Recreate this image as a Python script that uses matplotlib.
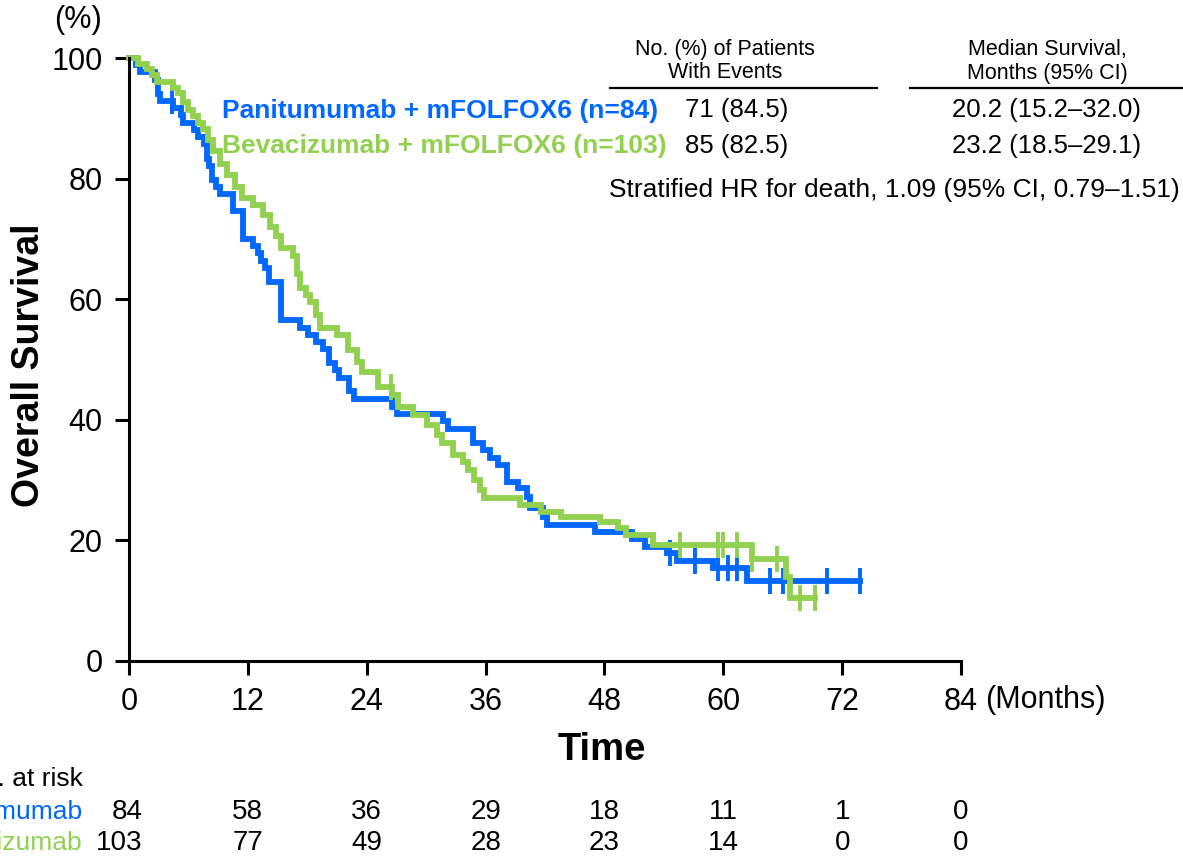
import matplotlib
matplotlib.use("Agg")
import matplotlib.pyplot as plt
from matplotlib.transforms import blended_transform_factory
import numpy as np

plt.rcParams['font.family'] = ['Liberation Sans', 'DejaVu Sans']

# Kaplan-Meier steps: event times (months) and survival (%) after each drop
pani_t = [0, 0.7, 1.1, 2.6, 2.9, 3.1, 4.4, 5.2, 5.5, 6.6, 7.0, 7.6, 7.9, 8.1, 8.4,
          8.8, 9.2, 10.5, 11.5, 12.5, 13.0, 13.3, 13.7, 14.1, 15.3, 17.3, 18.1,
          18.9, 19.6, 20.2, 20.8, 21.2, 22.2, 22.7, 26.6, 27.1, 31.7, 32.2, 34.7,
          35.7, 36.4, 37.3, 38.2, 39.3, 40.2, 40.5, 41.8, 42.2, 47.0, 50.8, 52.1,
          54.3, 55.3, 59.0, 62.4]
pani_s = [100, 98.8, 97.6, 96.4, 94.0, 92.9, 91.7, 90.5, 89.3, 88.1, 86.9, 85.7,
          83.3, 82.1, 79.8, 78.6, 77.4, 74.6, 70.0, 68.8, 67.6, 66.4, 65.2, 62.8,
          56.5, 55.3, 54.1, 52.9, 51.7, 49.4, 48.2, 47.0, 44.7, 43.4, 42.2, 41.0,
          39.8, 38.5, 36.2, 35.0, 33.7, 32.5, 29.7, 28.7, 27.2, 25.4, 23.9, 22.6,
          21.4, 20.2, 18.9, 17.9, 16.6, 15.4, 13.3]
pani_end = 73.8
pani_cens = [4.3, 54.6, 57.1, 59.5, 60.5, 61.4, 64.7, 66.0, 70.5, 73.8]

beva_t = [0, 0.9, 1.8, 2.3, 2.8, 4.4, 4.9, 5.5, 6.0, 6.5, 7.0, 7.5, 8.0, 8.5, 9.2,
          9.9, 10.7, 11.4, 12.5, 13.5, 14.2, 14.8, 15.3, 16.6, 17.0, 17.3, 17.9,
          18.3, 18.9, 19.3, 21.0, 22.1, 23.0, 23.5, 25.1, 26.6, 27.2, 28.7, 30.1,
          31.1, 31.6, 32.7, 33.7, 34.2, 34.8, 35.4, 35.8, 39.5, 41.6, 43.6, 47.6,
          49.4, 50.2, 52.9, 62.9, 66.3, 66.7]
beva_s = [100, 99.0, 98.1, 97.1, 96.1, 95.1, 94.2, 92.7, 91.3, 90.3, 89.3, 88.3,
          86.4, 84.5, 82.5, 80.6, 78.6, 76.7, 75.7, 74.0, 72.0, 70.5, 68.5, 67.2,
          64.1, 61.9, 60.7, 59.5, 57.4, 55.3, 54.1, 51.6, 49.6, 47.9, 45.4, 44.1,
          42.1, 40.8, 39.1, 37.5, 36.2, 34.2, 33.0, 31.7, 30.0, 28.4, 27.0, 25.9,
          24.7, 23.9, 23.1, 22.1, 20.9, 19.2, 16.9, 14.0, 10.4]
beva_end = 69.3
beva_cens = [26.5, 55.6, 59.5, 60.0, 61.4, 62.9, 65.4, 67.7, 69.3]

risk_times = [0, 12, 24, 36, 48, 60, 72, 84]
pani_risk = [84, 58, 36, 29, 18, 11, 1, 0]
beva_risk = [103, 77, 49, 28, 23, 14, 0, 0]

pani_label = "Panitumumab + mFOLFOX6 (n=84)"
beva_label = "Bevacizumab + mFOLFOX6 (n=103)"
pani_row = ["71 (84.5)", "20.2 (15.2\u201332.0)"]
beva_row = ["85 (82.5)", "23.2 (18.5\u201329.1)"]
hr_text = "Stratified HR for death, 1.09 (95% CI, 0.79\u20131.51)"

BLUE = "#0068FF"
GREEN = "#92D050"

W, H = 1183, 859
fig = plt.figure(figsize=(W / 100, H / 100), dpi=100)


def px(x, y):
    # pixel position -> figure fraction
    return x / W, 1 - y / H


ax = fig.add_axes([129 / W, 1 - 661 / H, 832 / W, 603 / H])


def km_curve(t, s, t_end, cens, color):
    tt = list(t) + [t_end]
    ss = list(s) + [s[-1]]
    ax.step(tt, ss, where="post", color=color, lw=4.2, clip_on=False,
            solid_joinstyle="miter")
    idx = np.searchsorted(np.array(t), np.array(cens), side="right") - 1
    ax.plot(cens, np.array(s)[idx], ls="none", marker="|", ms=19, mew=2.8,
            color=color, clip_on=False)


km_curve(pani_t, pani_s, pani_end, pani_cens, BLUE)
km_curve(beva_t, beva_s, beva_end, beva_cens, GREEN)

ax.set_xlim(0, 84)
ax.set_ylim(0, 100)
ax.set_xticks(risk_times)
ax.set_yticks([0, 20, 40, 60, 80, 100])
ax.tick_params(labelsize=22, width=2.2, length=10)
ax.tick_params(axis="y", pad=9)
ax.tick_params(axis="x", pad=9)
for side in ("top", "right"):
    ax.spines[side].set_visible(False)
for side in ("left", "bottom"):
    ax.spines[side].set_linewidth(2.2)

fig.text(*px(29, 365), "Overall Survival", fontsize=27, fontweight="bold",
         rotation=90, ha="center", va="center")
fig.text(*px(985, 700), "(Months)", fontsize=22, ha="left", va="center")
fig.text(*px(78, 20), "(%)", fontsize=22, ha="center", va="center")
fig.text(*px(602, 750), "Time", fontsize=27.5, fontweight="bold",
         ha="center", va="center")

# legend labels and summary table
fig.text(*px(222, 111), pani_label, color=BLUE, fontsize=19, fontweight="bold",
         va="center")
fig.text(*px(222, 146), beva_label, color=GREEN, fontsize=19, fontweight="bold",
         va="center")
fig.text(*px(725, 49), "No. (%) of Patients", fontsize=15.5, ha="center", va="center")
fig.text(*px(725, 73), "With Events", fontsize=15.5, ha="center", va="center")
fig.text(*px(1047, 49), "Median Survival,", fontsize=15.5, ha="center", va="center")
fig.text(*px(1047, 73), "Months (95% CI)", fontsize=15.5, ha="center", va="center")
for x0, x1 in [(610, 877), (910, 1183)]:
    fig.add_artist(plt.Line2D([x0 / W, x1 / W], [1 - 88 / H] * 2,
                              color="black", lw=1.6))
for yy, row in [(110, pani_row), (146, beva_row)]:
    fig.text(*px(685, yy), row[0], fontsize=18.5, ha="left", va="center")
    fig.text(*px(1047, yy), row[1], fontsize=18.5, ha="center", va="center")
fig.text(*px(609, 190), hr_text, fontsize=19, ha="left", va="center")

# number at risk
trans = blended_transform_factory(ax.transData, fig.transFigure)
fig.text(*px(83, 779), "No. at risk", fontsize=19, ha="right", va="center")
fig.text(*px(83, 812), "Panitumumab", color=BLUE, fontsize=19, ha="right",
         va="center")
fig.text(*px(83, 843), "Bevacizumab", color=GREEN, fontsize=19, ha="right",
         va="center")
for i, (t, a, b) in enumerate(zip(risk_times, pani_risk, beva_risk)):
    # first column is right-aligned, the rest are centred on the ticks
    xt, ha = (t + 1.35, "right") if i == 0 else (t, "center")
    ax.text(xt, 1 - 812 / H, str(a), transform=trans, fontsize=20,
            ha=ha, va="center")
    ax.text(xt, 1 - 843 / H, str(b), transform=trans, fontsize=20,
            ha=ha, va="center")

fig.savefig("out.png", dpi=100)
